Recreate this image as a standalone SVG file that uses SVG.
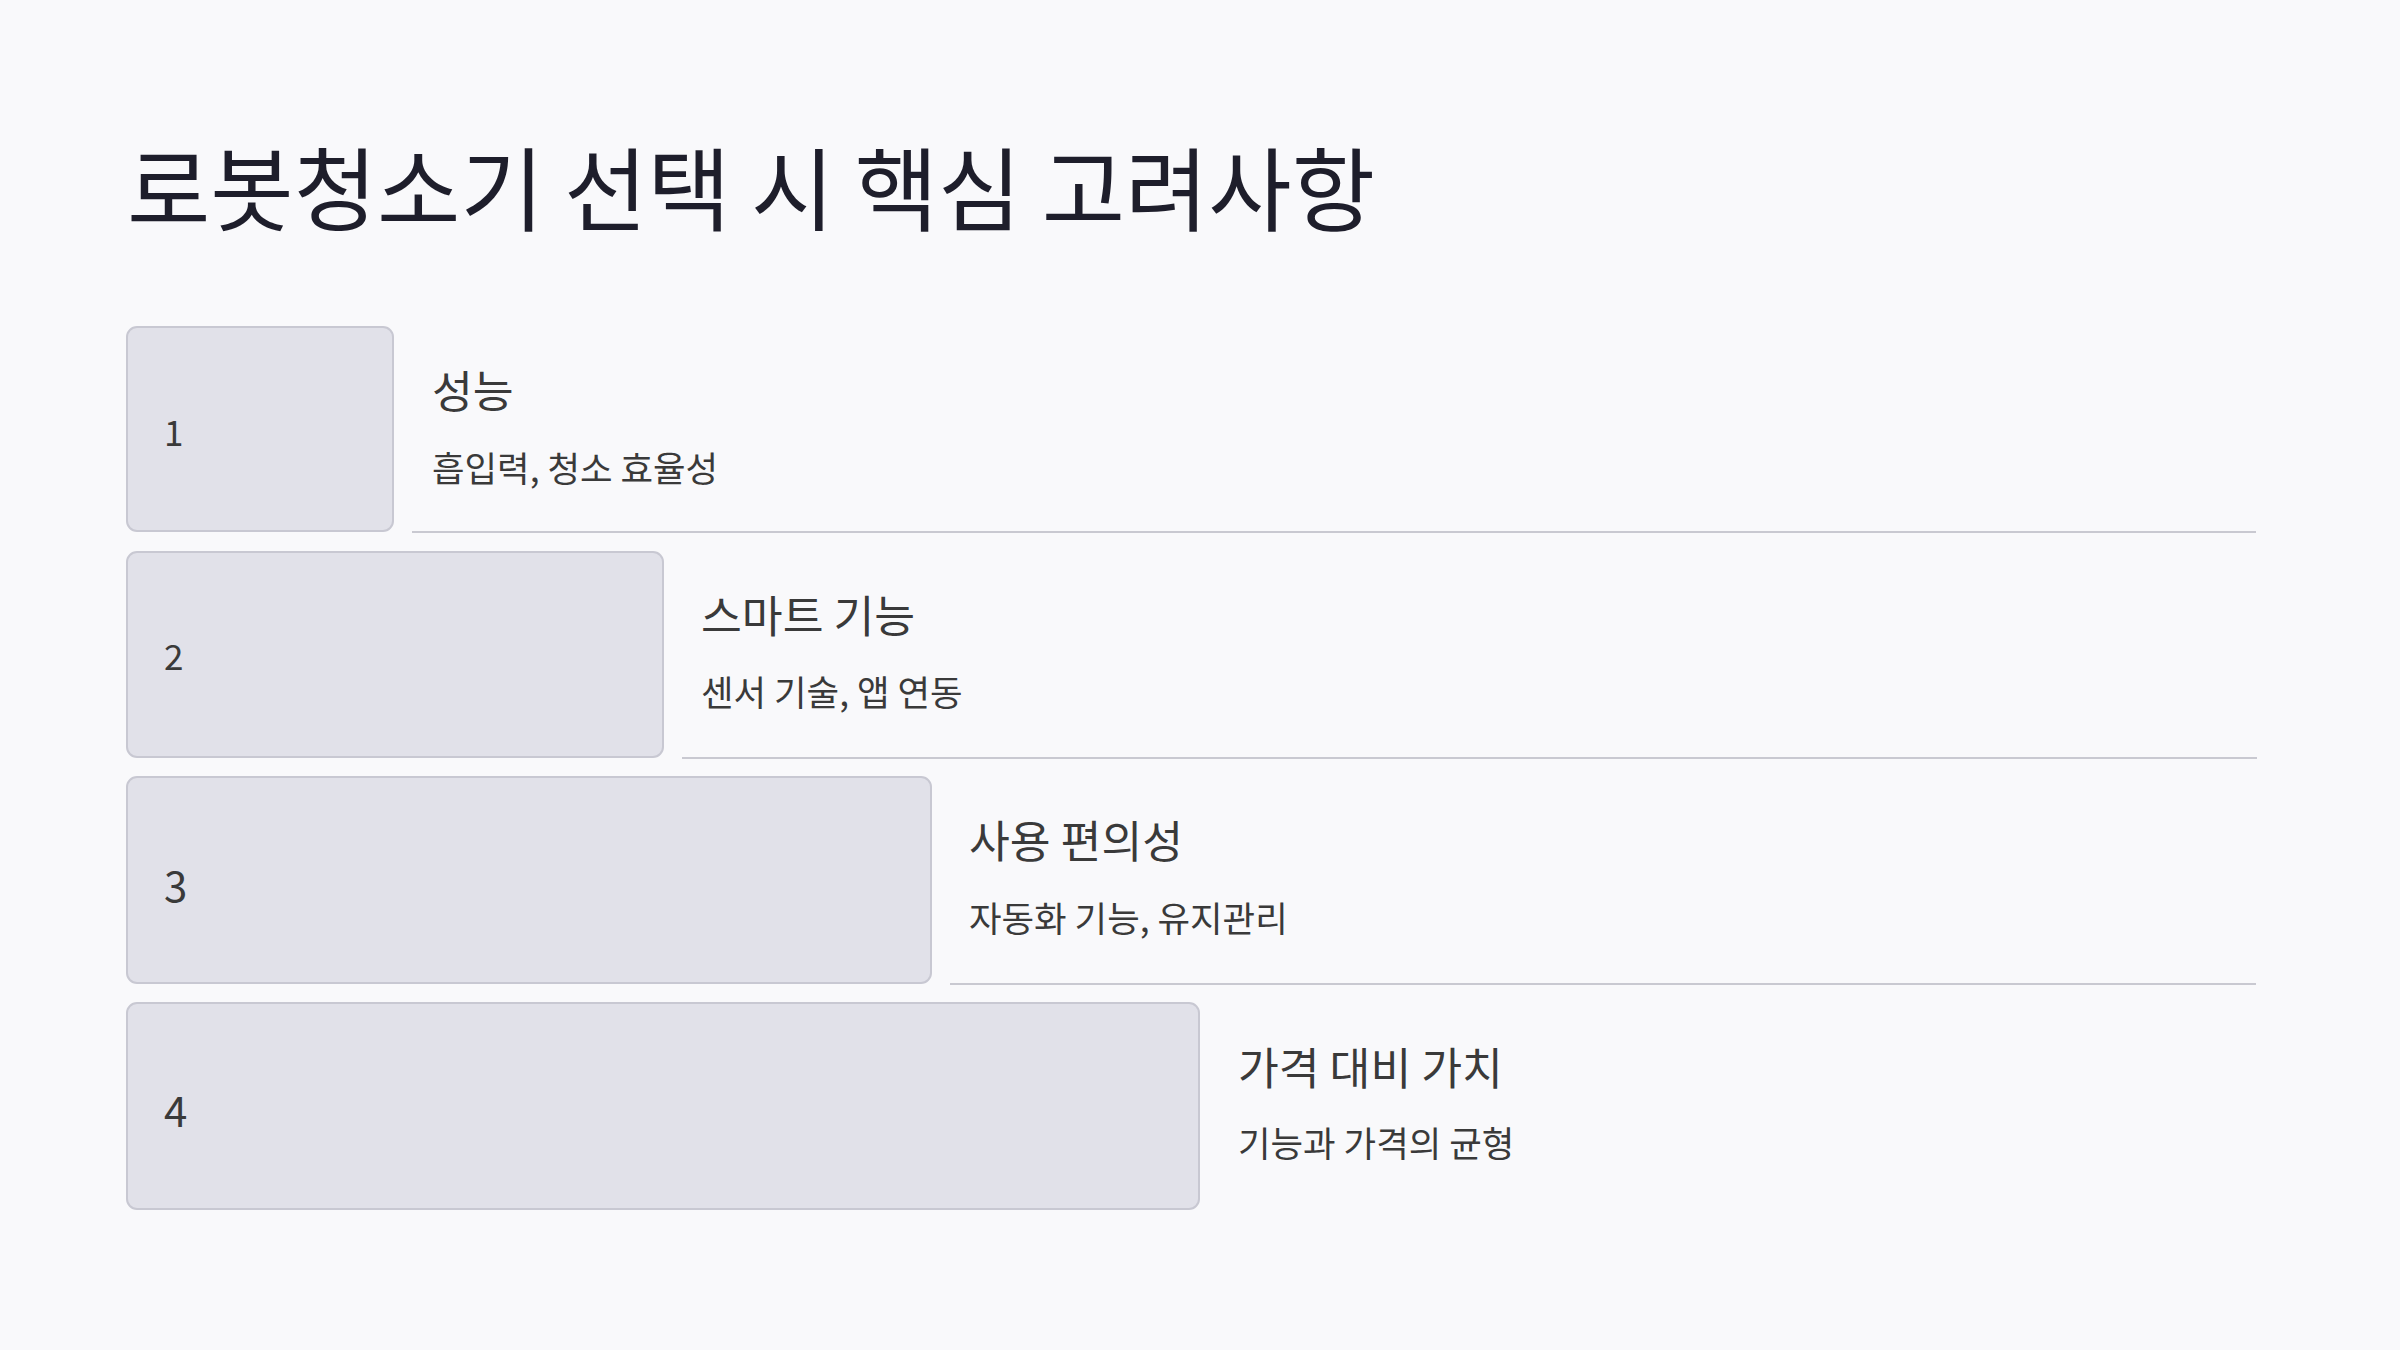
<svg xmlns="http://www.w3.org/2000/svg" width="2400" height="1350" viewBox="0 0 2400 1350">
<style>
text{font-family:"Noto Sans CJK KR","Noto Sans",sans-serif}
.title{font-size:90.6px;fill:#1e1e2b}
.box{fill:#e1e1e9;stroke:#c8c8d2;stroke-width:2}
.num{fill:#3a3a3a}
.h{font-size:44.4px;fill:#3a3a3a}
.d{font-size:35.4px;fill:#3a3a3a}
.sep{stroke:#c9c9d1;stroke-width:2}
</style>
<rect width="2400" height="1350" fill="#f9f9fb"/>
<text class="title" x="127" y="224">로봇청소기 선택 시 핵심 고려사항</text>
<g id="connectors">
<line class="sep" x1="412" y1="532" x2="2256" y2="532"/>
<line class="sep" x1="682" y1="758" x2="2257" y2="758"/>
<line class="sep" x1="950" y1="984" x2="2256" y2="984"/>
</g>
<g id="step1">
<rect class="box" x="127" y="327" width="266" height="204" rx="10"/>
<text class="num" x="164" y="446" font-size="35">1</text>
<text class="h" x="432" y="408">성능</text>
<text class="d" x="432" y="482">흡입력, 청소 효율성</text>
</g>
<g id="step2">
<rect class="box" x="127" y="552" width="536" height="205" rx="10"/>
<text class="num" x="164" y="670" font-size="35">2</text>
<text class="h" x="701" y="633">스마트 기능</text>
<text class="d" x="701" y="706">센서 기술, 앱 연동</text>
</g>
<g id="step3">
<rect class="box" x="127" y="777" width="804" height="206" rx="10"/>
<text class="num" x="164" y="902" font-size="42">3</text>
<text class="h" x="969" y="858">사용 편의성</text>
<text class="d" x="969" y="932">자동화 기능, 유지관리</text>
</g>
<g id="step4">
<rect class="box" x="127" y="1003" width="1072" height="206" rx="10"/>
<text class="num" x="164" y="1127" font-size="42">4</text>
<text class="h" x="1238" y="1085">가격 대비 가치</text>
<text class="d" x="1238" y="1157">기능과 가격의 균형</text>
</g>
</svg>
